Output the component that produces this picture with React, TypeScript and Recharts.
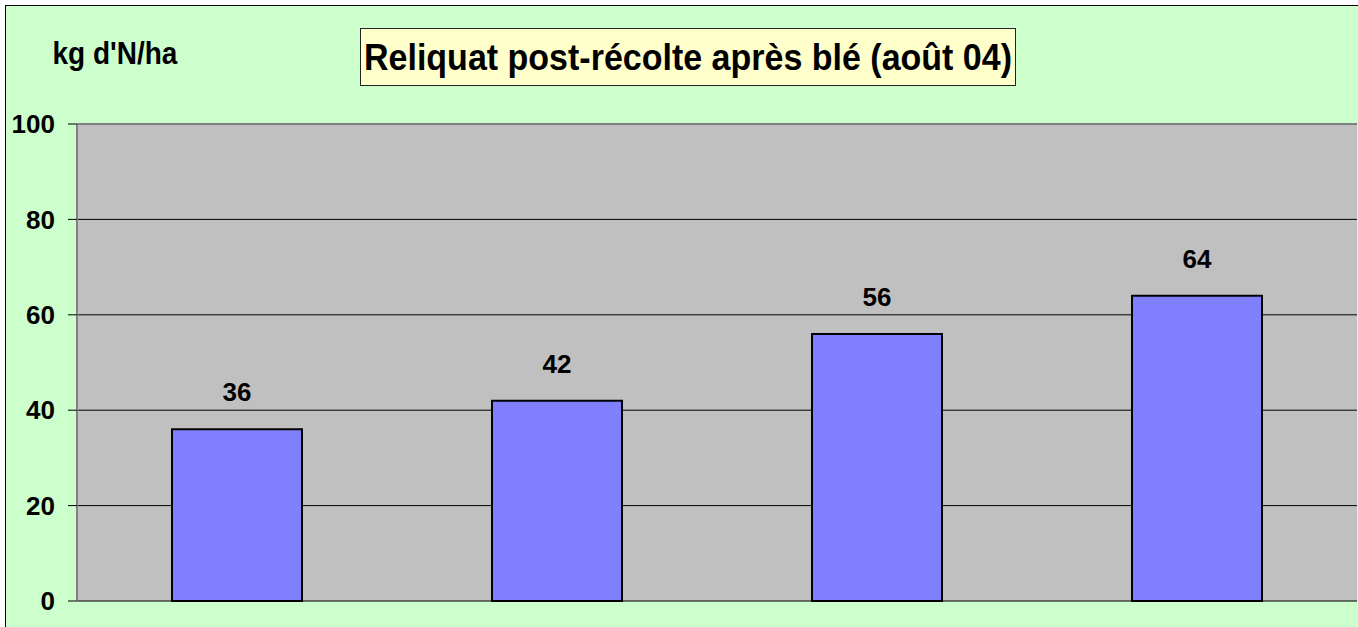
import React from 'react';
import { BarChart, Bar, XAxis, YAxis, CartesianGrid, LabelList, ReferenceLine } from 'recharts';

const categories = ['1', '2', '3', '4'];
const reliquat = [36, 42, 56, 64];
const yTicks = [0, 20, 40, 60, 80, 100];

const rows = categories.map((name, i) => ({ name, value: reliquat[i] }));

const font = '"Liberation Sans", Arial, sans-serif';

export default function App() {
  return (
    <div style={{ position: 'absolute', left: 0, top: 0, width: 1358, height: 627, overflow: 'hidden', background: '#fff', fontFamily: font }}>
      <div style={{ position: 'absolute', left: 5, top: 5, width: 1400, height: 700, background: '#CCFFCC', borderTop: '1px solid #000', borderLeft: '1px solid #000' }} />
      <div style={{ position: 'absolute', left: 30, top: 38, width: 170, textAlign: 'center', fontWeight: 'bold', fontSize: 28, transform: 'scaleY(1.1)' }}>
        kg d'N/ha
      </div>
      <div
        style={{
          position: 'absolute',
          left: 360,
          top: 28,
          width: 656,
          height: 58,
          background: '#FFFFCC',
          border: '1px solid #222',
          boxSizing: 'border-box',
          display: 'flex',
          alignItems: 'center',
          justifyContent: 'center',
          fontWeight: 'bold',
          fontSize: 34,
          whiteSpace: 'nowrap',
        }}
      >
        <span style={{ display: 'inline-block', transform: 'scaleY(1.1)' }}>Reliquat post-récolte après blé (août 04)</span>
      </div>
      <div style={{ position: 'absolute', left: 0, top: 0 }}>
        <BarChart width={1358} height={627} data={rows} margin={{ top: 124, right: 1, left: 0, bottom: 26 }}>
          <CartesianGrid yAxisId="l" vertical={false} fill="#C0C0C0" fillOpacity={1} stroke="#000" />
          <XAxis dataKey="name" height={0} tick={false} tickLine={false} axisLine={{ stroke: '#808080', strokeWidth: 2 }} />
          <YAxis
            yAxisId="l"
            width={77}
            domain={[0, 100]}
            ticks={yTicks}
            interval={0}
            tickSize={9}
            tickMargin={13}
            tickLine={{ stroke: '#000' }}
            axisLine={{ stroke: '#808080', strokeWidth: 2 }}
            tick={{ fill: '#000', fontSize: 26, fontWeight: 'bold', fontFamily: font }}
          />
          <YAxis yAxisId="r" orientation="right" width={0} domain={[0, 100]} tick={false} tickLine={false} axisLine={{ stroke: '#808080', strokeWidth: 2 }} />
          <ReferenceLine yAxisId="l" y={100} stroke="#808080" strokeWidth={2} />
          <Bar yAxisId="l" dataKey="value" barSize={130} fill="#8080FF" stroke="#000" strokeWidth={2} isAnimationActive={false}>
            <LabelList dataKey="value" position="top" offset={28} fill="#000" fontSize={26} fontWeight="bold" fontFamily={font} />
          </Bar>
        </BarChart>
      </div>
    </div>
  );
}
